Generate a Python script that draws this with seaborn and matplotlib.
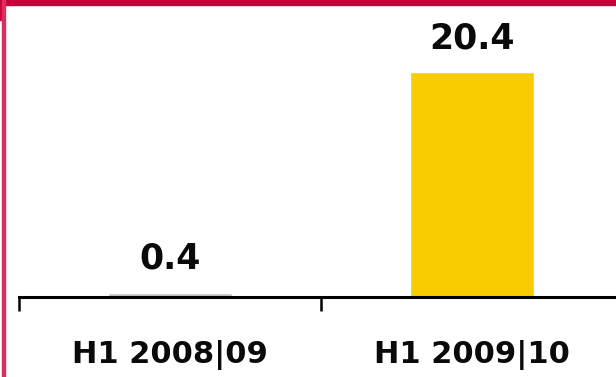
import matplotlib
matplotlib.use("Agg")
import matplotlib.pyplot as plt
from matplotlib.patches import Rectangle
import seaborn as sns
import pandas as pd

# Half-year result values
periods = ["H1 2008|09", "H1 2009|10"]
values = [0.4, 20.4]
bar_colors = ["#C3C3C3", "#F8CC00"]

sns.set_style("white")
plt.rcParams["font.family"] = ["DejaVu Sans"]

W, H = 616, 377
fig = plt.figure(figsize=(W / 100, H / 100), dpi=100)

# axes extends a bit past the right edge so the last boundary tick is cut off
left_px, right_px = 19, 623
base_px = 297
ax = fig.add_axes([left_px / W, (H - base_px) / H,
                   (right_px - left_px) / W, (base_px - 32) / H])

df = pd.DataFrame({"period": periods, "value": values})
sns.barplot(data=df, x="period", y="value", hue="period",
            palette=bar_colors, width=0.41, legend=False,
            saturation=1, ax=ax)

ax.set_xlim(-0.5, 1.5)
ax.set_ylim(0, 24)

for c in ax.containers:
    ax.bar_label(c, labels=[f"{v:.1f}" for v in c.datavalues],
                 padding=12, fontsize=25, fontweight="bold",
                 color="#0A0A0A")

# spines and ticks
for s in ["top", "right", "left"]:
    ax.spines[s].set_visible(False)
ax.spines["bottom"].set_color("black")
ax.spines["bottom"].set_linewidth(2.2)
ax.set_yticks([])
ax.set_xlabel("")
ax.set_ylabel("")

ax.set_xticks([0, 1])
ax.set_xticklabels(periods, fontsize=22, fontweight="bold", color="#0A0A0A")
ax.tick_params(axis="x", which="major", bottom=True, length=0, pad=31)
ax.set_xticks([-0.5, 0.5, 1.5], minor=True)
ax.tick_params(axis="x", which="minor", bottom=True, length=10, width=1.8,
               color="black", direction="out")

# crimson frame along the top and left edge
red = "#C8003C"
fig.patches.append(Rectangle((0, 1 - 5 / H), 1, 5 / H, transform=fig.transFigure,
                             color=red, zorder=10))
fig.patches.append(Rectangle((0, 1 - 20 / H), 4 / W, 20 / H, transform=fig.transFigure,
                             color=red, zorder=10))
fig.patches.append(Rectangle((2 / W, 0), 3 / W, 1, transform=fig.transFigure,
                             color="#D8305A", zorder=10))

fig.savefig("out.png", dpi=100)
